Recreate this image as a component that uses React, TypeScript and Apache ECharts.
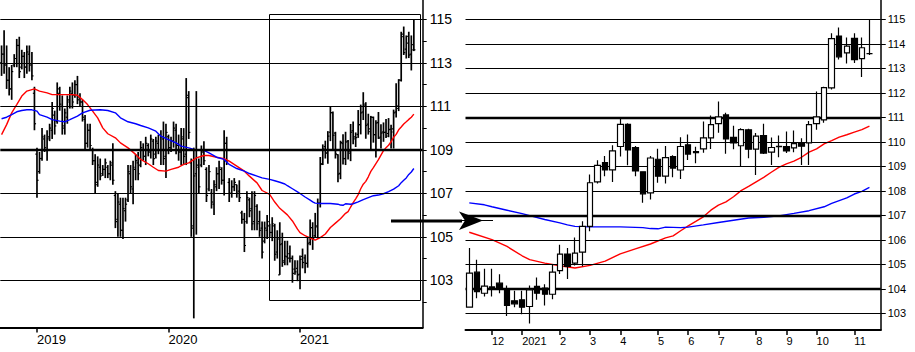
import React, { useEffect, useRef } from 'react';
import * as echarts from 'echarts';

// ---------- Left panel: weekly OHLC bars (Oct 2018 - Nov 2020); later weeks come from the right panel ----------
const leftOpen = [
  113.0, 113.4, 112.9, 112.2, 111.8, 112.9, 113.2, 113.8, 112.8, 113.3,
  112.8, 113.4, 112.9, 111.6, 108.8, 108.0, 108.6, 109.5, 109.0, 109.6,
  109.9, 110.6, 110.3, 111.6, 111.0, 110.1, 110.5, 111.2, 111.6, 111.5,
  112.0, 111.4, 111.2, 110.4, 109.3, 109.9, 109.0, 108.5, 107.5, 108.2,
  107.9, 108.1, 108.2, 107.9, 108.4, 106.9, 105.8, 106.5, 105.3, 106.2,
  106.7, 107.9, 107.2, 108.1, 108.4, 108.3, 109.0, 108.7, 109.2, 108.9,
  109.4, 108.8, 109.3, 109.0, 109.5, 108.7, 109.6, 109.1, 109.4, 109.9,
  109.2, 108.9, 109.5, 108.8, 111.4, 108.4, 105.5, 107.9, 108.2, 108.3,
  108.9, 108.1, 107.2, 107.0, 106.5, 107.3, 107.9, 108.1, 107.6, 109.3,
  107.5, 107.0, 107.3, 107.4, 107.1, 106.1, 105.8, 105.7, 106.7, 106.3,
  105.7, 106.4, 105.7, 105.4, 104.8, 105.3, 105.5, 105.2, 105.5, 104.3,
];
const leftHigh = [
  113.8, 114.5, 113.8, 112.8, 112.9, 113.4, 114.1, 114.2, 113.6, 113.5,
  113.8, 113.8, 113.5, 111.9, 109.1, 108.9, 110.0, 109.7, 109.9, 110.2,
  111.2, 110.8, 112.1, 111.9, 111.5, 110.9, 111.5, 111.9, 112.1, 112.2,
  112.4, 111.6, 111.3, 110.6, 110.2, 110.2, 109.1, 108.8, 108.7, 108.6,
  108.3, 108.6, 108.3, 108.5, 109.3, 107.1, 107.0, 106.8, 106.8, 106.8,
  108.3, 108.3, 108.5, 108.8, 108.9, 109.4, 109.3, 109.6, 109.3, 109.7,
  109.5, 109.6, 109.7, 109.9, 110.3, 110.2, 109.7, 109.6, 110.3, 110.2,
  109.7, 110.0, 110.0, 112.3, 111.7, 108.6, 109.1, 111.7, 108.6, 109.2,
  109.4, 108.2, 108.3, 107.2, 107.6, 108.2, 108.5, 108.2, 109.9, 109.6,
  107.7, 107.6, 107.7, 107.4, 107.6, 106.2, 106.1, 107.1, 106.8, 107.1,
  107.1, 106.5, 106.2, 105.7, 105.7, 106.0, 105.6, 105.9, 105.6, 105.3,
];
const leftLow = [
  112.4, 112.5, 111.8, 111.5, 111.3, 112.8, 112.8, 112.3, 112.7, 112.3,
  112.5, 112.6, 112.2, 109.9, 106.8, 107.9, 108.5, 108.9, 108.5, 109.4,
  109.5, 109.7, 110.2, 110.8, 109.7, 109.7, 110.2, 110.9, 110.9, 111.4,
  111.1, 111.0, 110.3, 109.0, 109.1, 109.0, 108.3, 107.0, 107.3, 107.6,
  107.8, 107.7, 107.7, 107.6, 107.4, 105.4, 105.0, 105.0, 104.9, 105.7,
  106.6, 107.0, 106.5, 107.6, 107.6, 108.2, 108.5, 108.3, 108.7, 108.6,
  108.3, 108.6, 108.8, 108.3, 108.3, 107.7, 108.8, 108.9, 109.1, 108.8,
  108.5, 108.3, 108.3, 108.3, 109.5, 105.0, 101.25, 105.1, 107.0, 108.2,
  108.3, 106.6, 107.1, 106.3, 106.0, 107.1, 107.2, 107.4, 106.9, 108.3,
  106.6, 106.8, 107.1, 106.8, 106.6, 105.6, 104.3, 105.6, 105.9, 105.3,
  105.3, 105.3, 105.0, 104.0, 104.7, 104.9, 105.0, 104.8, 103.9, 104.0,
];
const leftClose = [
  113.4, 112.9, 112.2, 111.8, 112.6, 113.2, 113.8, 112.6, 113.3, 112.8,
  113.5, 112.9, 112.4, 110.2, 107.6, 108.6, 109.6, 109.1, 109.5, 110.0,
  110.9, 110.1, 111.8, 111.1, 110.0, 110.7, 111.3, 111.7, 111.2, 112.0,
  111.3, 111.2, 110.5, 109.3, 109.9, 109.2, 108.5, 107.4, 108.3, 107.8,
  108.1, 108.4, 107.9, 108.3, 107.6, 105.7, 106.6, 105.3, 106.3, 106.5,
  108.0, 107.3, 108.2, 108.5, 107.9, 109.1, 108.7, 109.3, 108.9, 109.5,
  108.6, 109.4, 109.0, 109.6, 108.6, 109.8, 109.1, 109.4, 110.0, 109.2,
  108.9, 109.6, 108.7, 111.5, 109.8, 105.4, 107.8, 108.3, 107.3, 108.9,
  108.5, 106.9, 108.0, 106.6, 107.4, 107.9, 108.2, 107.6, 109.3, 108.5,
  107.0, 107.3, 107.5, 107.0, 106.8, 105.8, 104.6, 106.8, 106.2, 105.6,
  106.9, 105.6, 105.3, 104.3, 105.4, 105.7, 105.2, 105.6, 104.2, 104.9,
];

// ---------- Right panel: weekly candles (Nov 2020 - Nov 2021) ----------
const rightOpen = [
  103.25, 104.68, 103.82, 104.08, 104.23, 104.01, 103.51, 103.55, 103.28, 104.10,
  104.03, 103.78, 104.74, 105.42, 105.05, 105.50, 106.55, 108.37, 109.15, 108.86,
  109.81, 110.71, 109.77, 108.78, 107.92, 109.29, 108.60, 109.40, 108.85, 109.88,
  109.60, 109.71, 110.16, 110.74, 111.10, 110.18, 109.84, 110.49, 109.70, 110.26,
  109.58, 109.82, 109.81, 109.75, 109.95, 109.96, 110.74, 110.90, 112.20, 114.32,
  113.63, 114.22, 113.40, 113.60,
];
const rightClose = [
  104.64, 103.89, 104.11, 104.02, 104.01, 103.32, 103.39, 103.25, 103.96, 103.82,
  103.78, 104.68, 105.42, 104.92, 105.46, 106.55, 108.33, 109.04, 108.85, 109.63,
  110.71, 109.67, 108.81, 107.88, 109.34, 108.60, 109.36, 108.93, 109.81, 109.50,
  109.56, 110.16, 110.70, 111.02, 110.12, 109.96, 110.50, 109.70, 110.23, 109.54,
  109.77, 109.80, 109.63, 109.93, 109.82, 110.70, 111.02, 112.21, 114.21, 113.47,
  113.91, 113.36, 113.84, 113.60,
];
const rightLow = [
  103.25, 103.62, 103.69, 103.69, 103.82, 102.89, 103.25, 102.96, 102.59, 103.55,
  103.32, 103.58, 104.61, 104.40, 104.95, 104.92, 106.35, 108.30, 108.60, 108.36,
  109.40, 109.04, 108.60, 107.51, 107.65, 108.33, 108.30, 108.55, 108.48, 109.26,
  109.13, 109.55, 109.71, 110.37, 109.51, 109.70, 109.00, 109.33, 108.65, 109.50,
  109.06, 109.37, 109.54, 109.58, 109.06, 109.06, 110.49, 110.78, 112.14, 113.36,
  113.20, 113.22, 112.65, 113.54,
];
const rightHigh = [
  105.67, 105.19, 104.82, 104.82, 104.60, 104.14, 103.92, 103.92, 104.14, 104.46,
  104.19, 105.01, 105.80, 105.67, 106.10, 106.76, 108.67, 109.25, 109.42, 109.86,
  111.00, 110.76, 109.83, 108.80, 109.42, 109.72, 109.83, 109.45, 110.19, 110.30,
  109.80, 110.83, 111.08, 111.65, 111.19, 110.66, 110.56, 110.53, 110.36, 110.74,
  110.18, 110.26, 110.42, 110.46, 110.15, 110.85, 112.06, 112.25, 114.43, 114.67,
  114.26, 114.43, 114.26, 114.97,
];

// Moving averages: [week index, value]
const leftRedMa = [
  [0, 109.7], [2, 110.16], [4, 110.7], [6, 111.08], [8, 111.47], [10, 111.7], [12, 111.77], [13, 111.8],
  [15, 111.7], [18, 111.62], [20, 111.54], [23, 111.54], [26, 111.54], [28, 111.54], [30, 111.51],
  [32, 111.31], [34, 111.08], [36, 110.78], [38, 110.47], [40, 110.01], [42, 109.74], [45, 109.55],
  [47, 109.32], [50, 109.09], [53, 108.79], [55, 108.56], [58, 108.36], [60, 108.2], [62, 108.05],
  [65, 108.02], [67, 108.1], [70, 108.2], [72, 108.33], [74, 108.4], [77, 108.63], [80, 108.74],
  [82, 108.74], [85, 108.66], [88, 108.59], [90, 108.48], [93, 108.25], [96, 108.02], [98, 107.79],
  [101, 107.48], [103, 107.13], [106, 106.95], [108, 106.6],
];
const leftBlueMa = [
  [0, 110.43], [2, 110.5], [4, 110.62], [6, 110.75], [8, 110.81], [10, 110.84], [12, 110.84], [14, 110.78],
  [15, 110.62], [18, 110.5], [20, 110.39], [23, 110.32], [25, 110.29], [27, 110.39], [30, 110.55],
  [32, 110.7], [35, 110.82], [39, 110.84], [42, 110.81], [45, 110.7], [47, 110.47], [50, 110.29],
  [53, 110.2], [55, 110.12], [58, 110.01], [61, 109.86], [63, 109.63], [66, 109.47], [69, 109.32],
  [71, 109.17], [74, 109.09], [76, 109.02], [80, 108.98], [82, 108.86], [85, 108.66], [88, 108.56],
  [90, 108.33], [93, 108.14], [96, 108.02], [98, 107.91], [101, 107.79], [103, 107.71], [106, 107.64],
  [108, 107.58],
];
const rightRedMa = [
  [0, 106.31], [3, 106.01], [5, 105.73], [7, 105.35], [8, 105.19], [10, 105.05], [12, 104.94], [14, 104.85],
  [16, 104.96], [18, 105.13], [20, 105.43], [22, 105.63], [24, 105.83], [26, 106.08], [27, 106.16],
  [28, 106.37], [29, 106.57], [30, 106.75], [31, 106.94], [32, 107.21], [33, 107.42], [34, 107.55],
  [35, 107.76], [36, 108.01], [37, 108.18], [38, 108.37], [39, 108.55], [40, 108.76], [41, 108.96],
  [42, 109.1], [43, 109.21], [44, 109.37], [45, 109.58], [46, 109.71], [47, 109.92], [48, 110.05],
  [49, 110.19], [50, 110.29], [51, 110.4], [52, 110.5], [53, 110.64],
];
const rightBlueMa = [
  [0, 107.51], [2, 107.43], [3, 107.35], [5, 107.21], [7, 107.07], [8, 106.99], [10, 106.83], [12, 106.69],
  [13, 106.61], [14, 106.55], [16, 106.53], [20, 106.53], [23, 106.5], [24, 106.46], [25, 106.45],
  [26, 106.52], [28, 106.5], [29, 106.52], [31, 106.61], [33, 106.71], [35, 106.8], [37, 106.89],
  [39, 106.92], [41, 106.98], [43, 107.08], [45, 107.19], [47, 107.35], [48, 107.49], [49, 107.6],
  [50, 107.71], [51, 107.87], [52, 107.98], [53, 108.14],
];

// Axis ticks / gridlines
const leftLabelValues = [103, 105, 107, 109, 111, 113, 115];
const leftTickValues = [102, 103, 104, 105, 106, 107, 108, 109, 110, 111, 112, 113, 114, 115];
const leftGridValues = [103, 105, 107, 109, 111, 113, 115];
const leftThickGrid = [109];
const rightLabelValues = [103, 104, 105, 106, 107, 108, 109, 110, 111, 112, 113, 114, 115];
const rightGridValues = [103, 104, 105, 106, 107, 108, 109, 110, 111, 112, 113, 114, 115];
const rightThickGrid = [104, 107, 111];

const LEFT_START = '2018-10-01'; // Monday of first weekly bar
const RIGHT_START = '2020-11-09'; // Monday of first weekly candle
const LEFT_OFFSET = 110; // right panel week 0 == left panel week 110
const DAY = 86400000;

function weeks(start: string, n: number): string[] {
  const t0 = Date.parse(start + 'T00:00:00Z');
  return Array.from({ length: n }, (_, i) => new Date(t0 + i * 7 * DAY).toISOString().slice(0, 10));
}
const leftWeeks = weeks(LEFT_START, 167);
const rightWeeks = weeks(RIGHT_START, 55);

const FONT = 'Liberation Sans, Arial, sans-serif';

function leftShow(i: number): boolean {
  if (i === 0) return false;
  return leftWeeks[i].slice(0, 4) !== leftWeeks[i - 1].slice(0, 4);
}
function fridayMonth(d: string): number {
  return new Date(Date.parse(d + 'T00:00:00Z') + 4 * DAY).getUTCMonth();
}
function rightShow(i: number): boolean {
  if (i === 0) return false;
  return fridayMonth(rightWeeks[i]) !== fridayMonth(rightWeeks[i - 1]);
}
function rightLabel(d: string): string {
  const f = new Date(Date.parse(d + 'T00:00:00Z') + 4 * DAY);
  const m = f.getUTCMonth() + 1;
  return m === 1 ? String(f.getUTCFullYear()) : String(m);
}

function gridLines(values: number[], thick: number[]) {
  return values.map((v) => ({
    yAxis: v,
    lineStyle: { color: '#000', width: thick.includes(v) ? 2.4 : 1, type: 'solid' as const },
  }));
}

export default function App() {
  const ref = useRef<HTMLDivElement>(null);
  useEffect(() => {
    document.body.style.margin = '0';
    if (!ref.current) return;
    const chart = echarts.init(ref.current, undefined, { renderer: 'svg' });

    const leftAll = {
      o: [...leftOpen, ...rightOpen],
      c: [...leftClose, ...rightClose],
      l: [...leftLow, ...rightLow],
      h: [...leftHigh, ...rightHigh],
    };
    const leftOhlc = leftAll.o.map((o, i) => [i, o, leftAll.c[i], leftAll.l[i], leftAll.h[i]]);
    const leftRed = [...leftRedMa, ...rightRedMa.map(([i, v]) => [i + LEFT_OFFSET, v])];
    const leftBlue = [...leftBlueMa, ...rightBlueMa.map(([i, v]) => [i + LEFT_OFFSET, v])];
    const candles = rightOpen.map((o, i) => [o, rightClose[i], rightLow[i], rightHigh[i]]);

    const option: any = {
      animation: false,
      backgroundColor: '#ffffff',
      grid: [
        { left: 0.3, top: 0, width: 422.4, height: 327.5 },
        { left: 465.5, top: 0, width: 415.25, height: 330 },
      ],
      xAxis: [
        {
          type: 'category', gridIndex: 0, data: leftWeeks, boundaryGap: true,
          axisLine: { show: true, lineStyle: { color: '#000', width: 2 } },
          axisTick: { show: true, alignWithLabel: true, interval: (i: number) => leftShow(i), length: 5, lineStyle: { color: '#000', width: 1.5 } },
          axisLabel: {
            interval: (i: number) => leftShow(i), formatter: (v: string) => v.slice(0, 4),
            align: 'left', margin: 5, color: '#000', fontSize: 13, fontFamily: FONT,
          },
          splitLine: { show: false },
        },
        {
          type: 'category', gridIndex: 1, data: rightWeeks, boundaryGap: true,
          axisLine: { show: true, lineStyle: { color: '#000', width: 2 } },
          axisTick: { show: true, alignWithLabel: true, interval: (i: number) => rightShow(i), length: 5, lineStyle: { color: '#000', width: 1.5 } },
          axisLabel: {
            interval: (i: number) => rightShow(i), formatter: (v: string) => rightLabel(v),
            align: 'left', margin: 5, color: '#000', fontSize: 11, fontFamily: FONT,
          },
          splitLine: { show: false },
        },
      ],
      yAxis: [
        {
          type: 'value', gridIndex: 0, position: 'right', min: 100.83, max: 115.89,
          axisLine: { show: true, lineStyle: { color: '#000', width: 1.5 } },
          axisTick: { show: true, customValues: leftTickValues, length: 4, lineStyle: { color: '#000' } },
          axisLabel: { customValues: leftLabelValues, margin: 7, color: '#000', fontSize: 14, fontFamily: FONT },
          splitLine: { show: false },
        },
        {
          type: 'value', gridIndex: 1, position: 'right', min: 102.32, max: 115.79,
          axisLine: { show: true, lineStyle: { color: '#000', width: 1.5 } },
          axisTick: { show: true, customValues: rightLabelValues, length: 5, lineStyle: { color: '#000' } },
          axisLabel: { customValues: rightLabelValues, margin: 7, color: '#000', fontSize: 11, fontFamily: FONT },
          splitLine: { show: false },
        },
      ],
      series: [
        {
          type: 'line', xAxisIndex: 0, yAxisIndex: 0, data: [], z: 1, silent: true,
          markLine: { silent: true, symbol: ['none', 'none'], label: { show: false }, data: gridLines(leftGridValues, leftThickGrid) },
        },
        {
          type: 'custom', xAxisIndex: 0, yAxisIndex: 0, z: 3, data: leftOhlc,
          encode: { x: 0, y: [1, 2, 3, 4] },
          renderItem: (_p: any, api: any) => {
            const x = api.value(0);
            const o = api.coord([x, api.value(1)]);
            const c = api.coord([x, api.value(2)]);
            const l = api.coord([x, api.value(3)]);
            const h = api.coord([x, api.value(4)]);
            const w = 1.6;
            return {
              type: 'group',
              children: [
                { type: 'line', shape: { x1: h[0], y1: h[1], x2: l[0], y2: l[1] }, style: { stroke: '#000', lineWidth: 1.7 } },
                { type: 'line', shape: { x1: o[0] - w, y1: o[1], x2: o[0], y2: o[1] }, style: { stroke: '#000', lineWidth: 1.2 } },
                { type: 'line', shape: { x1: c[0], y1: c[1], x2: c[0] + w, y2: c[1] }, style: { stroke: '#000', lineWidth: 1.2 } },
              ],
            };
          },
        },
        {
          type: 'line', xAxisIndex: 0, yAxisIndex: 0, data: leftRed, z: 4, showSymbol: false,
          lineStyle: { color: '#ff0000', width: 1.4 }, itemStyle: { color: '#ff0000' },
        },
        {
          type: 'line', xAxisIndex: 0, yAxisIndex: 0, data: leftBlue, z: 4, showSymbol: false,
          lineStyle: { color: '#0000ff', width: 1.4 }, itemStyle: { color: '#0000ff' },
        },
        {
          type: 'line', xAxisIndex: 1, yAxisIndex: 1, data: [], z: 1, silent: true,
          markLine: { silent: true, symbol: ['none', 'none'], label: { show: false }, data: gridLines(rightGridValues, rightThickGrid) },
        },
        {
          type: 'line', xAxisIndex: 1, yAxisIndex: 1, data: rightRedMa, z: 4, showSymbol: false,
          lineStyle: { color: '#ff0000', width: 1.4 }, itemStyle: { color: '#ff0000' },
        },
        {
          type: 'line', xAxisIndex: 1, yAxisIndex: 1, data: rightBlueMa, z: 4, showSymbol: false,
          lineStyle: { color: '#0000ff', width: 1.4 }, itemStyle: { color: '#0000ff' },
        },
        {
          type: 'candlestick', xAxisIndex: 1, yAxisIndex: 1, data: candles, z: 5, barWidth: 6,
          itemStyle: { color: '#ffffff', color0: '#000000', borderColor: '#000000', borderColor0: '#000000', borderWidth: 1.2 },
        },
      ],
      graphic: [
        { type: 'rect', shape: { x: 269.5, y: 14.5, width: 151, height: 286 }, style: { fill: 'none', stroke: '#000', lineWidth: 1 }, z: 10 },
        { type: 'line', shape: { x1: 391, y1: 221, x2: 462, y2: 221 }, style: { stroke: '#000', lineWidth: 3 }, z: 10 },
        { type: 'line', shape: { x1: 462, y1: 220.5, x2: 493, y2: 220.5 }, style: { stroke: '#000', lineWidth: 1 }, z: 10 },
        { type: 'polygon', shape: { points: [[459, 211.5], [483, 220.5], [459, 230], [465, 220.5]] }, style: { fill: '#000' }, z: 10 },
      ],
    };
    chart.setOption(option);
    return () => chart.dispose();
  }, []);
  return <div ref={ref} style={{ position: 'absolute', left: 0, top: 0, width: 915, height: 352, background: '#fff' }} />;
}
